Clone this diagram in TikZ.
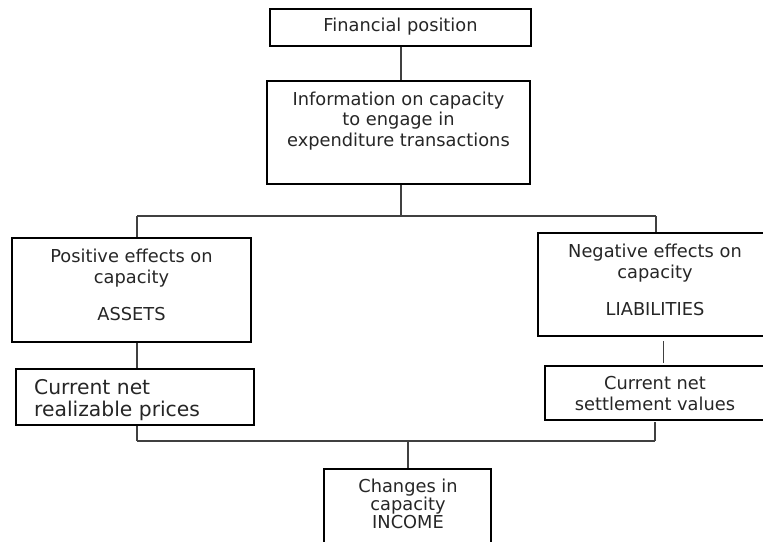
\documentclass[tikz,border=0pt]{standalone}
\usepackage{fontspec}
\setmainfont{DejaVu Sans}
\usetikzlibrary{fit}
\newcommand\midfont{\fontsize{17.8pt}{20.5pt}\selectfont}
\newcommand\tightfont{\fontsize{17.8pt}{18pt}\selectfont}
\newcommand\bigfont{\fontsize{20.3pt}{22pt}\selectfont}
\begin{document}
\begin{tikzpicture}[x=1pt,y=-1pt,
  box/.style={draw=black, line width=1.2pt, inner sep=0pt, fill=white},
  txt/.style={font=\midfont, align=center, inner sep=0pt, text=black!85},
  tighttxt/.style={font=\tightfont, align=center, inner sep=0pt, text=black!85},
  bigtxt/.style={font=\bigfont, align=left, inner sep=0pt, text=black!85},
  conn/.style={draw=black!75, line width=1.2pt}]
\useasboundingbox[fill=white] (0,0) rectangle (763,541);
% boxes
\node[box, fit={(270,9) (531,46)}] (fp) {};
\node[box, fit={(267,81) (530,184)}] (info) {};
\node[box, fit={(12,238) (251,342)}] (pos) {};
\node[box, fit={(538,233) (765,336)}] (neg) {};
\node[box, fit={(16,369) (254,425)}] (cnrp) {};
\node[box, fit={(545,366) (765,420)}] (cnsv) {};
\node[box, fit={(324,469) (491,545)}] (chg) {};
% texts
\node[txt] (tfp) at (400.5,27) {Financial position};
\node[txt] (tinfo) at (398.5,121) {Information on capacity\\to engage in\\expenditure transactions};
\node[txt] (tpos) at (131.5,268) {Positive effects on\\capacity};
\node[txt] (tassets) at (131.5,314) {ASSETS};
\node[txt] (tneg) at (655,263) {Negative effects on\\capacity};
\node[txt] (tliab) at (655,309.5) {LIABILITIES};
\node[bigtxt, anchor=west] (tcnrp) at (34,400.5) {Current net\\realizable prices};
\node[txt] (tcnsv) at (655,393.5) {Current net\\settlement values};
\node[tighttxt] (tchg) at (408,504) {Changes in\\capacity\\INCOME};
% connector points
\coordinate (jtop) at (401,216);
\coordinate (jl) at (137,216);
\coordinate (jr) at (656,216);
\coordinate (bl) at (137,441);
\coordinate (br) at (655,441);
\coordinate (bm) at (408,441);
% connectors
\draw[conn] (401,0 |- fp.south) -- (401,0 |- info.north);
\draw[conn] (401,0 |- info.south) -- (jtop);
\draw[conn] (jl) -- (jr);
\draw[conn] (jl) -- (jl |- pos.north);
\draw[conn] (jr) -- (jr |- neg.north);
\draw[conn] (137,0 |- pos.south) -- (137,0 |- cnrp.north);
\draw[conn] (663.5,341) -- (663.5,363);
\draw[conn] (137,0 |- cnrp.south) -- (bl);
\draw[conn] (655,422) -- (br);
\draw[conn] (bl) -- (br);
\draw[conn] (bm) -- (bm |- chg.north);
\end{tikzpicture}
\end{document}
